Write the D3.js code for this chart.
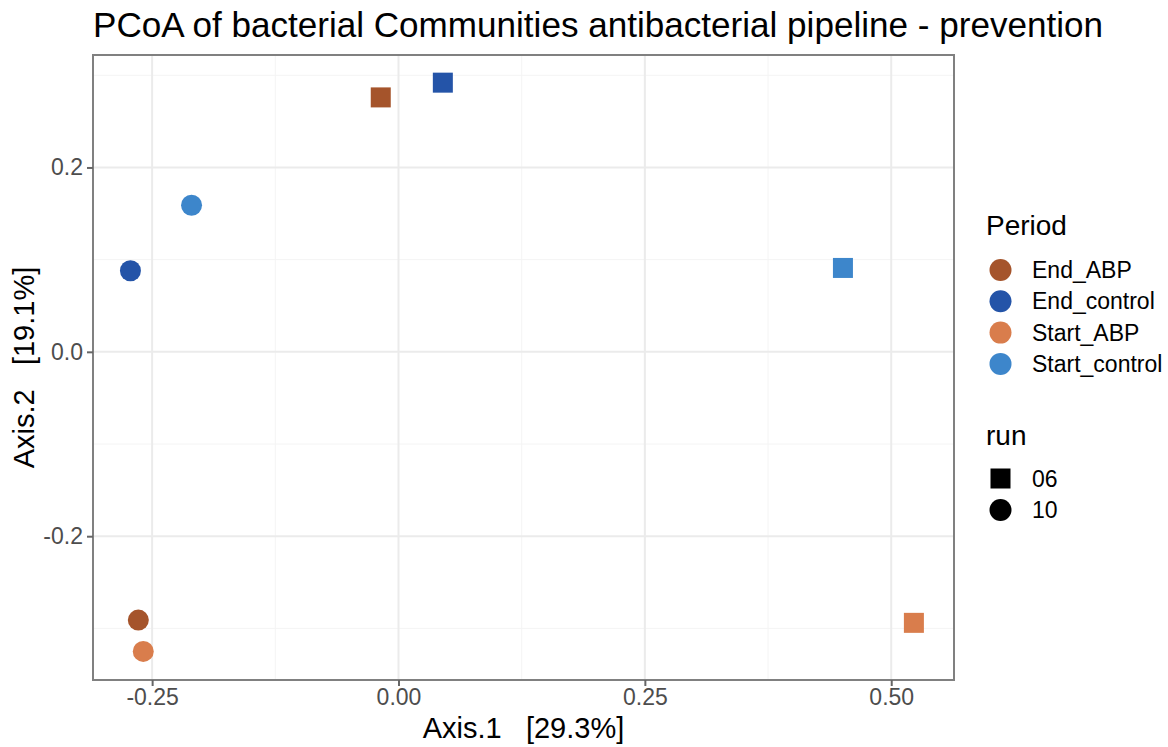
<!DOCTYPE html>
<html>
<head>
<meta charset="utf-8">
<script src="https://cdn.jsdelivr.net/npm/d3@7"></script>
<style>
  body { margin: 0; background: #fff; }
  text { font-family: "Liberation Sans", Arial, sans-serif; }
</style>
</head>
<body>
<div id="chart"></div>
<script>
// Data
const samplePeriod = ["End_ABP", "End_control", "Start_control", "End_control", "Start_control", "End_ABP", "Start_ABP", "Start_ABP"];
const sampleRun = ["06", "06", "10", "10", "06", "10", "10", "06"];
const axis1 = [-0.018, 0.045, -0.210, -0.272, 0.451, -0.264, -0.259, 0.523];
const axis2 = [0.276, 0.292, 0.159, 0.088, 0.091, -0.291, -0.325, -0.294];

const periods = ["End_ABP", "End_control", "Start_ABP", "Start_control"];
const periodColors = ["#A5542B", "#2454A8", "#D97D4C", "#3D86CB"];
const runs = ["06", "10"];
const xTicks = [-0.25, 0, 0.25, 0.5];
const yTicks = [-0.2, 0, 0.2];

const W = 1168, H = 747;
const panel = { left: 93, top: 55, right: 954, bottom: 680 };

const svg = d3.select("#chart").append("svg")
    .attr("width", W)
    .attr("height", H);

const x = d3.scaleLinear().domain([-0.310, 0.5637]).range([panel.left, panel.right]);
const y = d3.scaleLinear().domain([-0.356, 0.322]).range([panel.bottom, panel.top]);
const color = d3.scaleOrdinal().domain(periods).range(periodColors);

// Title
svg.append("text")
    .attr("x", panel.left)
    .attr("y", 37)
    .attr("font-size", 35.1)
    .attr("fill", "#000")
    .text("PCoA of bacterial Communities antibacterial pipeline - prevention");

// Grid: minor lines halfway between majors
const xMinor = [-0.125, 0.125, 0.375];
const yMinor = [-0.3, -0.1, 0.1, 0.3];
const grid = svg.append("g");
grid.selectAll(".xminor").data(xMinor).enter().append("line")
    .attr("x1", d => x(d)).attr("x2", d => x(d))
    .attr("y1", panel.top).attr("y2", panel.bottom)
    .attr("stroke", "#f4f4f4").attr("stroke-width", 1);
grid.selectAll(".yminor").data(yMinor).enter().append("line")
    .attr("y1", d => y(d)).attr("y2", d => y(d))
    .attr("x1", panel.left).attr("x2", panel.right)
    .attr("stroke", "#f4f4f4").attr("stroke-width", 1);
grid.selectAll(".xmajor").data(xTicks).enter().append("line")
    .attr("x1", d => x(d)).attr("x2", d => x(d))
    .attr("y1", panel.top).attr("y2", panel.bottom)
    .attr("stroke", "#ebebeb").attr("stroke-width", 2);
grid.selectAll(".ymajor").data(yTicks).enter().append("line")
    .attr("y1", d => y(d)).attr("y2", d => y(d))
    .attr("x1", panel.left).attr("x2", panel.right)
    .attr("stroke", "#ebebeb").attr("stroke-width", 2);

// Points
const points = axis1.map((v, i) => ({ x: v, y: axis2[i], period: samplePeriod[i], run: sampleRun[i] }));
const marks = svg.append("g");
marks.selectAll(".sq").data(points.filter(d => d.run === "06")).enter().append("rect")
    .attr("x", d => x(d.x) - 10)
    .attr("y", d => y(d.y) - 10)
    .attr("width", 20).attr("height", 20)
    .attr("fill", d => color(d.period));
marks.selectAll(".ci").data(points.filter(d => d.run === "10")).enter().append("circle")
    .attr("cx", d => x(d.x))
    .attr("cy", d => y(d.y))
    .attr("r", 10.5)
    .attr("fill", d => color(d.period));

// Panel border
svg.append("rect")
    .attr("x", panel.left).attr("y", panel.top)
    .attr("width", panel.right - panel.left)
    .attr("height", panel.bottom - panel.top)
    .attr("fill", "none")
    .attr("stroke", "#808080")
    .attr("stroke-width", 2);

// Axes
const hyphen = f => d => f(d).replace("\u2212", "-");
const xAxis = svg.append("g")
    .attr("transform", `translate(0,${panel.bottom})`)
    .call(d3.axisBottom(x).tickValues(xTicks).tickFormat(hyphen(d3.format(".2f"))).tickSize(6).tickPadding(3));
const yAxis = svg.append("g")
    .attr("transform", `translate(${panel.left},0)`)
    .call(d3.axisLeft(y).tickValues(yTicks).tickFormat(hyphen(d3.format(".1f"))).tickSize(6).tickPadding(4));
[xAxis, yAxis].forEach(g => {
    g.select(".domain").remove();
    g.selectAll(".tick line").attr("stroke", "#666").attr("stroke-width", 2);
    g.selectAll(".tick text")
        .attr("fill", "#4d4d4d")
        .attr("font-size", 23)
        .style("font-family", "'Liberation Sans', Arial, sans-serif");
});

// Axis titles
svg.append("text")
    .attr("x", (panel.left + panel.right) / 2)
    .attr("y", 738)
    .attr("text-anchor", "middle")
    .attr("font-size", 29)
    .style("white-space", "pre")
    .text("Axis.1   [29.3%]");
svg.append("text")
    .attr("transform", `translate(34,${(panel.top + panel.bottom) / 2}) rotate(-90)`)
    .attr("text-anchor", "middle")
    .attr("font-size", 29)
    .style("white-space", "pre")
    .text("Axis.2   [19.1%]");

// Legend: Period
const legend = svg.append("g");
legend.append("text")
    .attr("x", 986).attr("y", 235)
    .attr("font-size", 28)
    .text("Period");
const periodItems = legend.selectAll(".pitem").data(periods).enter().append("g")
    .attr("transform", (d, i) => `translate(1000.5,${270 + i * 31.3})`);
periodItems.append("circle").attr("r", 11).attr("fill", d => color(d));
periodItems.append("text")
    .attr("x", 31.5).attr("y", 8)
    .attr("font-size", 23)
    .text(d => d);

// Legend: run
legend.append("text")
    .attr("x", 986).attr("y", 445)
    .attr("font-size", 28)
    .text("run");
const runItems = legend.selectAll(".ritem").data(runs).enter().append("g")
    .attr("transform", (d, i) => `translate(1000.5,${478.5 + i * 31.5})`);
runItems.filter(d => d === "06").append("rect")
    .attr("x", -10).attr("y", -10).attr("width", 20).attr("height", 20).attr("fill", "#000");
runItems.filter(d => d === "10").append("circle").attr("r", 11).attr("fill", "#000");
runItems.append("text")
    .attr("x", 31.5).attr("y", 8)
    .attr("font-size", 23)
    .text(d => d);
</script>
</body>
</html>
